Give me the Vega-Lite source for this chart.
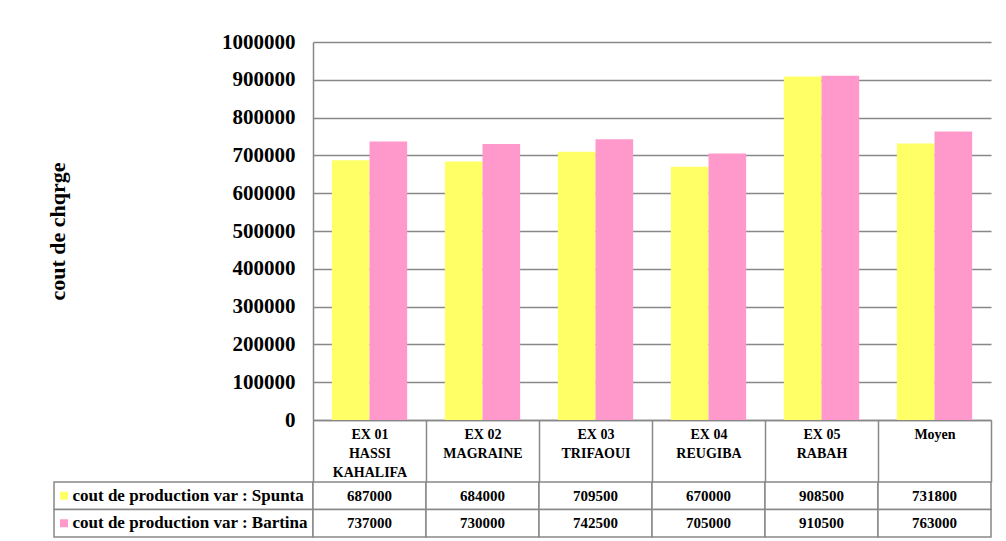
{
  "$schema": "https://vega.github.io/schema/vega-lite/v6.json",
  "background": "white",
  "padding": {"left": 46, "top": 31, "right": 15, "bottom": 4},
  "config": {
    "view": {"stroke": null},
    "font": "Liberation Serif",
    "axis": {"labelFont": "Liberation Serif", "titleFont": "Liberation Serif", "labelColor": "black", "titleColor": "black"}
  },
  "datasets": {
    "costs": [
      {"exploitation": "EX 01\nHASSI\nKAHALIFA", "variete": "cout de production var : Spunta", "cout": 687000},
      {"exploitation": "EX 01\nHASSI\nKAHALIFA", "variete": "cout de production var : Bartina", "cout": 737000},
      {"exploitation": "EX 02\nMAGRAINE", "variete": "cout de production var : Spunta", "cout": 684000},
      {"exploitation": "EX 02\nMAGRAINE", "variete": "cout de production var : Bartina", "cout": 730000},
      {"exploitation": "EX 03\nTRIFAOUI", "variete": "cout de production var : Spunta", "cout": 709500},
      {"exploitation": "EX 03\nTRIFAOUI", "variete": "cout de production var : Bartina", "cout": 742500},
      {"exploitation": "EX 04\nREUGIBA", "variete": "cout de production var : Spunta", "cout": 670000},
      {"exploitation": "EX 04\nREUGIBA", "variete": "cout de production var : Bartina", "cout": 705000},
      {"exploitation": "EX 05\nRABAH", "variete": "cout de production var : Spunta", "cout": 908500},
      {"exploitation": "EX 05\nRABAH", "variete": "cout de production var : Bartina", "cout": 910500},
      {"exploitation": "Moyen", "variete": "cout de production var : Spunta", "cout": 731800},
      {"exploitation": "Moyen", "variete": "cout de production var : Bartina", "cout": 763000}
    ],
    "series": [
      {"variete": "cout de production var : Spunta"},
      {"variete": "cout de production var : Bartina"}
    ]
  },
  "columns": 2,
  "spacing": {"row": 62, "column": 0},
  "bounds": "flush",
  "resolve": {"scale": {"x": "independent", "y": "independent"}},
  "concat": [
    {
      "width": 259,
      "height": 378,
      "data": {"values": []},
      "mark": {"type": "point", "opacity": 0},
      "encoding": {}
    },
    {
      "width": 678,
      "height": 378,
      "data": {"name": "costs"},
      "mark": {"type": "bar"},
      "encoding": {
        "x": {
          "field": "exploitation", "type": "nominal", "sort": null,
          "scale": {"paddingInner": 0, "paddingOuter": 0},
          "axis": {
            "title": null, "labelAngle": 0, "domainColor": "#888", "domainWidth": 1.5,
            "tickColor": "#888", "tickWidth": 1.5, "tickSize": 62, "tickBand": "extent",
            "labelPadding": -55, "labelBaseline": "top", "labelAlign": "center",
            "labelExpr": "split(datum.label, '\\n')",
            "labelFontSize": 14, "labelFontWeight": "bold", "labelLineHeight": 19
          }
        },
        "xOffset": {"field": "variete", "type": "nominal", "sort": null, "scale": {"paddingOuter": 0.5, "paddingInner": 0}},
        "y": {
          "field": "cout", "type": "quantitative",
          "scale": {"domain": [0, 1000000]},
          "axis": {
            "title": "cout de chqrge", "titleFontSize": 22, "titleFontWeight": "bold", "titlePadding": 152,
            "values": [0, 100000, 200000, 300000, 400000, 500000, 600000, 700000, 800000, 900000, 1000000],
            "format": "d", "grid": true, "gridColor": "#888", "gridWidth": 1.5,
            "domainColor": "#888", "domainWidth": 1.5, "ticks": false, "labelPadding": 18,
            "labelFontSize": 21, "labelFontWeight": "bold"
          }
        },
        "color": {
          "field": "variete", "type": "nominal", "sort": null,
          "scale": {"range": ["#FFFF66", "#FF99CC"]}, "legend": null
        }
      }
    },
    {
      "width": 259,
      "height": 55,
      "data": {"name": "series"},
      "encoding": {
        "y": {"field": "variete", "type": "nominal", "sort": null, "axis": null, "scale": {"paddingInner": 0, "paddingOuter": 0}}
      },
      "layer": [
        {"mark": {"type": "rect", "fill": "white", "stroke": "#888", "strokeWidth": 1.5}},
        {
          "mark": {"type": "point", "shape": "square", "filled": true, "size": 64, "opacity": 1, "xOffset": -119.5},
          "encoding": {
            "color": {"field": "variete", "type": "nominal", "sort": null, "scale": {"range": ["#FFFF66", "#FF99CC"]}, "legend": null}
          }
        },
        {
          "mark": {"type": "text", "align": "left", "dx": -111, "fontSize": 17, "fontWeight": "bold", "color": "black"},
          "encoding": {"text": {"field": "variete", "type": "nominal"}}
        }
      ]
    },
    {
      "width": 678,
      "height": 55,
      "data": {"name": "costs"},
      "encoding": {
        "x": {"field": "exploitation", "type": "nominal", "sort": null, "axis": null, "scale": {"paddingInner": 0, "paddingOuter": 0}},
        "y": {"field": "variete", "type": "nominal", "sort": null, "axis": null, "scale": {"paddingInner": 0, "paddingOuter": 0}}
      },
      "layer": [
        {"mark": {"type": "rect", "fill": "white", "stroke": "#888", "strokeWidth": 1.5}},
        {
          "mark": {"type": "text", "fontSize": 15, "fontWeight": "bold", "color": "black"},
          "encoding": {"text": {"field": "cout", "type": "quantitative", "format": "d"}}
        }
      ]
    }
  ]
}
